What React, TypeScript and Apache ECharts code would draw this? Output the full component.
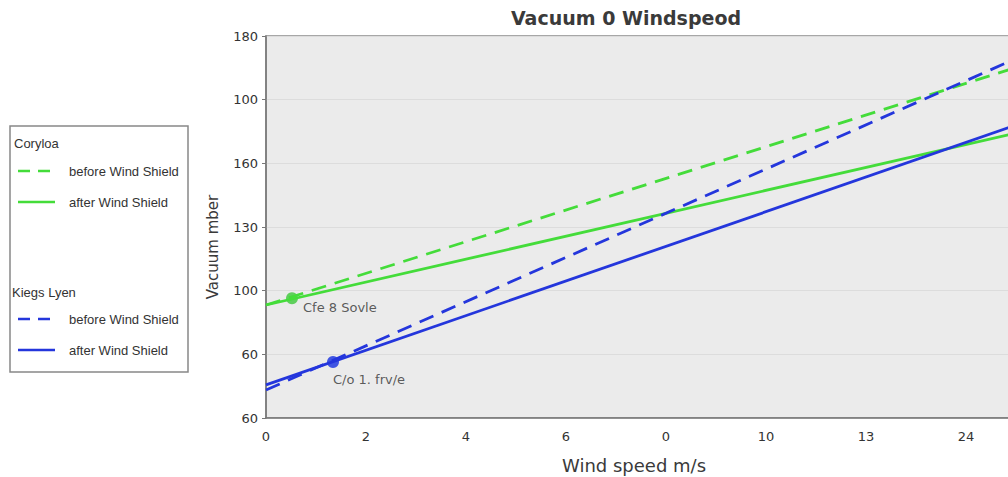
import React, { useEffect, useRef } from "react";
import * as echarts from "echarts";

// Tick labels as printed on the reference
const xTickLabels = ["0", "2", "4", "6", "0", "10", "13", "24"];
const yTickLabels = ["60", "60", "100", "130", "160", "100", "180"];

// Line series: [wind speed, vacuum]
const greenBefore = [
  [0, 75.5],
  [15, 150.1],
];
const greenAfter = [
  [0, 75.5],
  [15, 129.5],
];
const blueBefore = [
  [0, 48.8],
  [15, 152.9],
];
const blueAfter = [
  [0, 50.4],
  [15, 132.0],
];

// Marked points with labels
const greenPoint = [[0.52, 77.6]];
const bluePoint = [[1.34, 57.6]];
const greenPointLabel = "Cfe 8 Sovle";
const bluePointLabel = "C/o 1. frv/e";

const groupNames = ["Coryloa", "Kiegs Lyen"];
const itemNames = ["before Wind Shield", "after Wind Shield"];

const GREEN = "#44dc3a";
const BLUE = "#2436dc";
const FONT = "DejaVu Sans, sans-serif";
const LEGEND_FONT = "Liberation Sans, sans-serif";

export default function App() {
  const ref = useRef<HTMLDivElement>(null);

  useEffect(() => {
    if (!ref.current) return;
    const chart = echarts.init(ref.current, null, { renderer: "svg" });

    const legendItem = (y: number, color: string, dashed: boolean, text: string) => [
      {
        type: "line",
        shape: { x1: 18, y1: y, x2: 55, y2: y },
        style: { stroke: color, lineWidth: 2.5, lineDash: dashed ? [12, 8] : null },
      },
      {
        type: "text",
        x: 69,
        y,
        style: { text, fontSize: 13, fontFamily: LEGEND_FONT, fill: "#333", verticalAlign: "middle" },
      },
    ];

    chart.setOption({
      animation: false,
      backgroundColor: "#ffffff",
      grid: {
        left: 266,
        top: 36,
        bottom: 59,
        right: 0,
        show: true,
        backgroundColor: "#ebebeb",
        borderColor: "#8a8a8a",
        borderWidth: 1.5,
      },
      xAxis: {
        type: "value",
        min: 0,
        max: 15,
        interval: 2,
        axisLine: { show: true, lineStyle: { color: "#777", width: 1.5 } },
        axisTick: { show: false },
        splitLine: { show: false },
        axisLabel: {
          color: "#333",
          fontSize: 13,
          fontFamily: FONT,
          margin: 12,
          showMaxLabel: false,
          formatter: (v: number) => xTickLabels[Math.round(v / 2)] ?? "",
        },
      },
      yAxis: {
        type: "value",
        min: 40,
        max: 160,
        interval: 20,
        axisLine: { show: true, lineStyle: { color: "#777", width: 1.5 } },
        axisTick: { show: true, length: 4, lineStyle: { color: "#777" } },
        splitLine: { show: true, lineStyle: { color: "#dcdcdc", width: 1 } },
        axisLabel: {
          color: "#333",
          fontSize: 13,
          fontFamily: FONT,
          margin: 8,
          formatter: (v: number) => yTickLabels[Math.round((v - 40) / 20)] ?? "",
        },
      },
      series: [
        {
          type: "line",
          data: greenBefore,
          showSymbol: false,
          lineStyle: { color: GREEN, width: 2.8, type: [15, 9] },
        },
        {
          type: "line",
          data: greenAfter,
          showSymbol: false,
          lineStyle: { color: GREEN, width: 2.8 },
        },
        {
          type: "line",
          data: blueBefore,
          showSymbol: false,
          lineStyle: { color: BLUE, width: 2.8, type: [15, 9] },
        },
        {
          type: "line",
          data: blueAfter,
          showSymbol: false,
          lineStyle: { color: BLUE, width: 2.8 },
        },
        {
          type: "scatter",
          data: greenPoint,
          symbolSize: 12,
          itemStyle: { color: "#3cc83a" },
          label: {
            show: true,
            position: "right",
            offset: [0, 9],
            formatter: greenPointLabel,
            color: "#333",
            fontSize: 13,
            fontFamily: FONT,
          },
        },
        {
          type: "scatter",
          data: bluePoint,
          symbolSize: 12,
          itemStyle: { color: "#1530e0" },
          label: {
            show: true,
            position: "right",
            offset: [-11, 18],
            formatter: bluePointLabel,
            color: "#333",
            fontSize: 13,
            fontFamily: FONT,
          },
        },
      ],
      graphic: [
        {
          type: "text",
          x: 626,
          y: 18,
          style: {
            text: "Vacuum 0 Windspeod",
            fontSize: 19,
            fontWeight: "bold",
            fontFamily: FONT,
            fill: "#3a3a3a",
            align: "center",
            verticalAlign: "middle",
          },
        },
        {
          type: "text",
          x: 634,
          y: 465,
          style: {
            text: "Wind speed m/s",
            fontSize: 18,
            fontFamily: FONT,
            fill: "#3a3a3a",
            align: "center",
            verticalAlign: "middle",
          },
        },
        {
          type: "text",
          x: 213,
          y: 247,
          rotation: Math.PI / 2,
          style: {
            text: "Vacuum mber",
            fontSize: 15,
            fontFamily: FONT,
            fill: "#3a3a3a",
            align: "center",
            verticalAlign: "middle",
          },
        },
        {
          type: "rect",
          shape: { x: 10, y: 126, width: 178, height: 246 },
          style: { fill: "#ffffff", stroke: "#888", lineWidth: 1.5 },
        },
        {
          type: "text",
          x: 14,
          y: 143,
          style: { text: groupNames[0], fontSize: 13, fontFamily: LEGEND_FONT, fill: "#333", verticalAlign: "middle" },
        },
        ...legendItem(171, GREEN, true, itemNames[0]),
        ...legendItem(202, GREEN, false, itemNames[1]),
        {
          type: "text",
          x: 12,
          y: 292,
          style: { text: groupNames[1], fontSize: 13, fontFamily: LEGEND_FONT, fill: "#333", verticalAlign: "middle" },
        },
        ...legendItem(319, BLUE, true, itemNames[0]),
        ...legendItem(350, BLUE, false, itemNames[1]),
      ],
    });

    return () => chart.dispose();
  }, []);

  return (
    <div
      ref={ref}
      style={{ position: "fixed", left: 0, top: 0, width: 1016, height: 477 }}
    />
  );
}
